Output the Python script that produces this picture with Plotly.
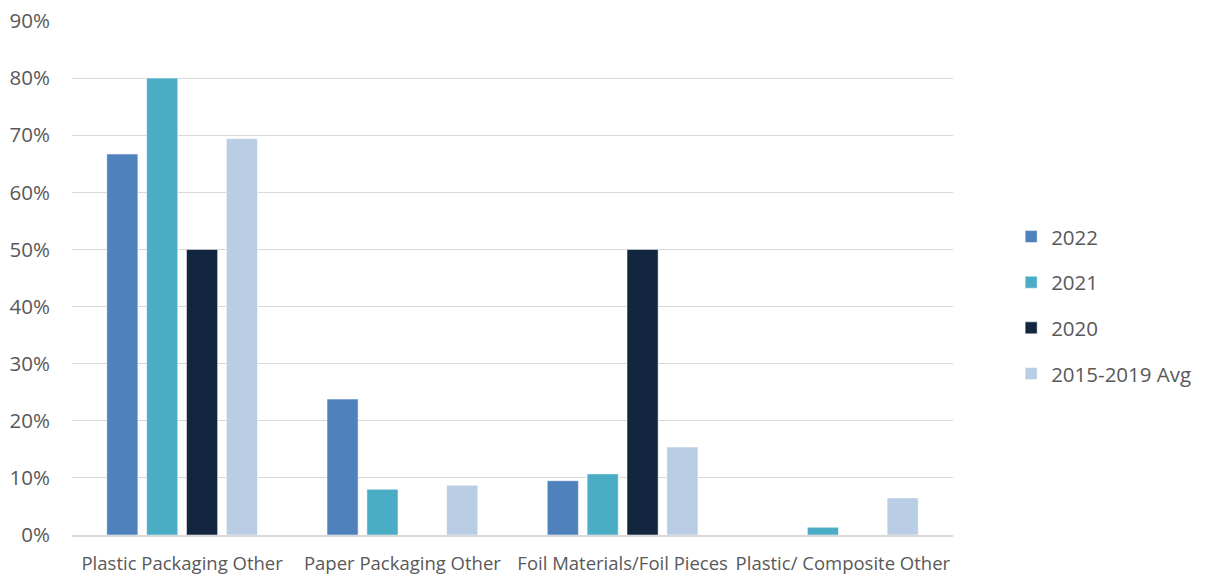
import plotly.graph_objects as go

categories = ["Plastic Packaging Other", "Paper Packaging Other",
              "Foil Materials/Foil Pieces", "Plastic/ Composite Other"]
series_names = ["2022", "2021", "2020", "2015-2019 Avg"]
v2022 = [66.7, 23.8, 9.5, 0]
v2021 = [80.0, 8.0, 10.7, 1.35]
v2020 = [50.0, 0, 50.0, 0]
vavg = [69.4, 8.7, 15.4, 6.5]
colors = ["#4F81BD", "#4BACC6", "#13263F", "#B9CDE5"]
y_ticks = [0, 10, 20, 30, 40, 50, 60, 70, 80, 90]
y_tick_labels = [f"{t}%" for t in y_ticks]

font_family = "'Open Sans', sans-serif"
fig = go.Figure()
for i, (name, vals) in enumerate(zip(series_names, [v2022, v2021, v2020, vavg])):
    fig.add_trace(go.Bar(
        x=categories, y=vals, name=name,
        marker=dict(color=colors[i], line=dict(color="white", width=0.5)),
        legendgroup=name,
    ))

fig.update_layout(
    width=1209, height=576,
    margin=dict(l=72, r=256, t=21, b=41),
    plot_bgcolor="white", paper_bgcolor="white",
    barmode="group", bargap=0.276, bargroupgap=0.22,
    font=dict(family=font_family, color="#595959", size=17),
    legend=dict(x=1.066, y=0.447, xanchor="left", yanchor="middle",
                font=dict(size=20.5, color="#595959"),
                tracegroupgap=16, traceorder="grouped"),
    xaxis=dict(showgrid=False, showline=True, linecolor="#D9D9D9", linewidth=1.5,
               ticks="", tickfont=dict(size=18.5), ticklabelstandoff=11,
               automargin=False),
    yaxis=dict(range=[0, 90], tickvals=y_ticks, ticktext=y_tick_labels,
               showgrid=True, gridcolor="#D9D9D9", gridwidth=1,
               zeroline=False, showline=False, ticks="",
               tickfont=dict(size=20.5), ticklabelstandoff=21, automargin=False),
)

fig.write_html("out.html", config={"displayModeBar": False},
               post_script="document.body.style.margin='0';")
